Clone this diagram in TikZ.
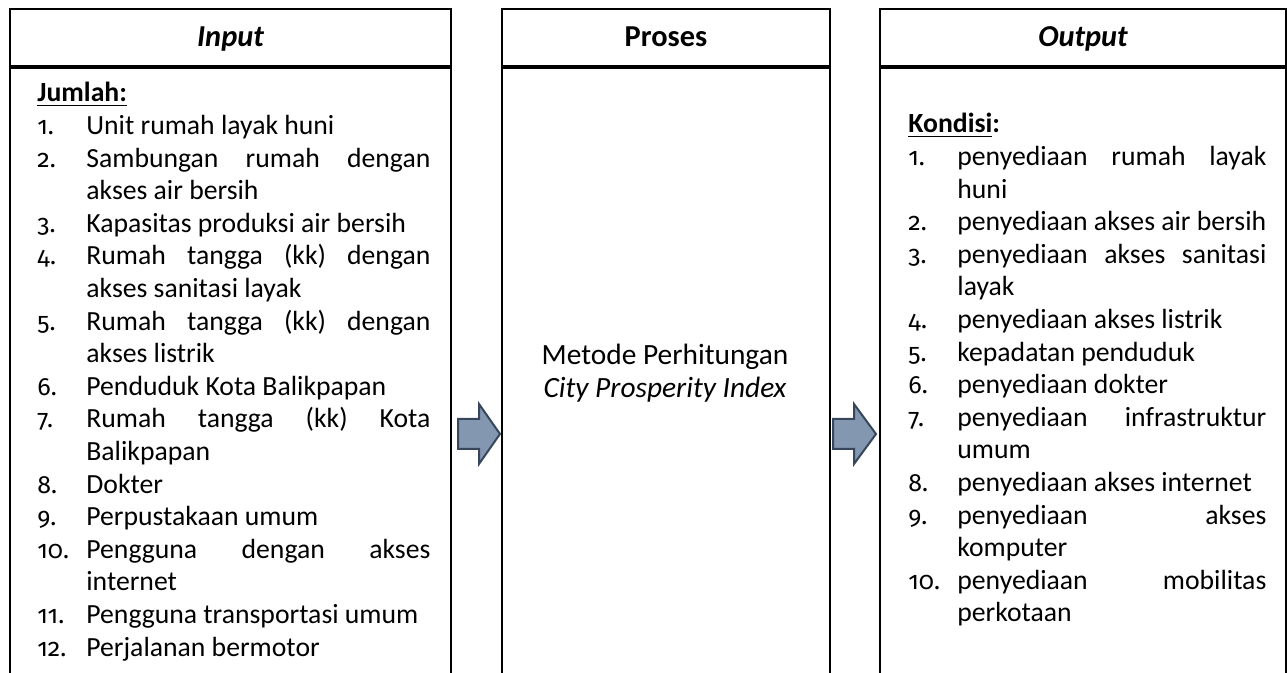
\documentclass[tikz,border=0pt]{standalone}
\usepackage{fontspec}
\setmainfont{Carlito}
\newfontfamily\numfont[Numbers=OldStyle, Scale=0.9]{Fira Sans}
\definecolor{arrowfill}{RGB}{132,151,176}
\definecolor{arrowline}{RGB}{56,70,92}
\begin{document}
\begin{tikzpicture}[
    x=0.5pt, y=-0.5pt,
    headbox/.style = {draw, line width=1pt, inner sep=0pt, minimum height=28.5pt,
        text height=12.2pt, text depth=2.7pt, anchor=north west,
        font=\fontsize{15.2pt}{18pt}\selectfont\bfseries},
    bodybox/.style = {draw, line width=1pt, inner sep=0pt, minimum height=330pt, anchor=north west},
    txt/.style = {inner sep=0pt, anchor=base west, font=\fontsize{13.85pt}{16.3pt}\selectfont},
    nrtxt/.style = {txt, font=\fontsize{13.85pt}{16.3pt}\selectfont\numfont},
    mid/.style = {inner sep=0pt, anchor=base, font=\fontsize{14.7pt}{17pt}\selectfont},
    blockarrow/.style = {draw=arrowline, fill=arrowfill, line width=1pt, line join=miter},
  ]
  \useasboundingbox (0,0) rectangle (1287,673);

  % three columns
  \node (inHead) [headbox, minimum width=220.5pt] at (9,8) {\itshape Input};
  \node (inBody) [bodybox, minimum width=220.5pt] at (inHead.south west) {};
  \node (prHead) [headbox, minimum width=164pt] at (501,8) {Proses};
  \node (prBody) [bodybox, minimum width=164pt] at (prHead.south west) {};
  \node (outHead) [headbox, minimum width=203pt] at (879,8) {\itshape Output};
  \node (outBody) [bodybox, minimum width=203pt] at (outHead.south west) {};

  % input list
  \node (amount) [txt] at (37,102) {\textbf{\underline{Jumlah:}}};
  \foreach \nr/\entry/\al [count=\k] in {
      1./Unit rumah layak huni/l,
      2./Sambungan rumah dengan/s,
      /akses air bersih/l,
      3./Kapasitas produksi air bersih/l,
      4./Rumah tangga (kk) dengan/s,
      /akses sanitasi layak/l,
      5./Rumah tangga (kk) dengan/s,
      /akses listrik/l,
      6./Penduduk Kota Balikpapan/l,
      7./Rumah tangga (kk) Kota/s,
      /Balikpapan/l,
      8./Dokter/l,
      9./Perpustakaan umum/l,
      10./Pengguna dengan akses/s,
      /internet/l,
      11./Pengguna transportasi umum/l,
      12./Perjalanan bermotor/l}{
    \node (in\k) [txt] at (86,{102+32.6*\k}) {\makebox[172pt][\al]{\entry}};
    \ifx\nr\empty\else\node (inNr\k) [nrtxt] at (37,{102+32.6*\k}) {\nr};\fi
  }

  % process
  \node (method) [mid] at (665,365) {Metode Perhitungan};
  \node (cpi) [mid] at (665,398) {\itshape City Prosperity Index};

  % output list
  \node (cond) [txt] at (908,133) {\textbf{\underline{Kondisi}:}};
  \foreach \nr/\entry/\al [count=\k] in {
      1./penyediaan rumah layak/s,
      /huni/l,
      2./penyediaan akses air bersih/l,
      3./penyediaan akses sanitasi/s,
      /layak/l,
      4./penyediaan akses listrik/l,
      5./kepadatan penduduk/l,
      6./penyediaan dokter/l,
      7./penyediaan infrastruktur/s,
      /umum/l,
      8./penyediaan akses internet/l,
      9./penyediaan akses/s,
      /komputer/l,
      10./penyediaan mobilitas/s,
      /perkotaan/l}{
    \node (out\k) [txt] at (957,{133+32.6*\k}) {\makebox[154.5pt][\al]{\entry}};
    \ifx\nr\empty\else\node (outNr\k) [nrtxt] at (908,{133+32.6*\k}) {\nr};\fi
  }

  % block arrows
  \coordinate (arrIn) at (500,434);
  \coordinate (arrOut) at (876,434);
  \draw[blockarrow] (arrIn) -- ++(-21,-30) -- ++(0,15) -- ++(-21,0) -- ++(0,30)
      -- ++(21,0) -- ++(0,15) -- cycle;
  \draw[blockarrow] (arrOut) -- ++(-22,-30) -- ++(0,15) -- ++(-21,0) -- ++(0,30)
      -- ++(21,0) -- ++(0,15) -- cycle;
\end{tikzpicture}
\end{document}
